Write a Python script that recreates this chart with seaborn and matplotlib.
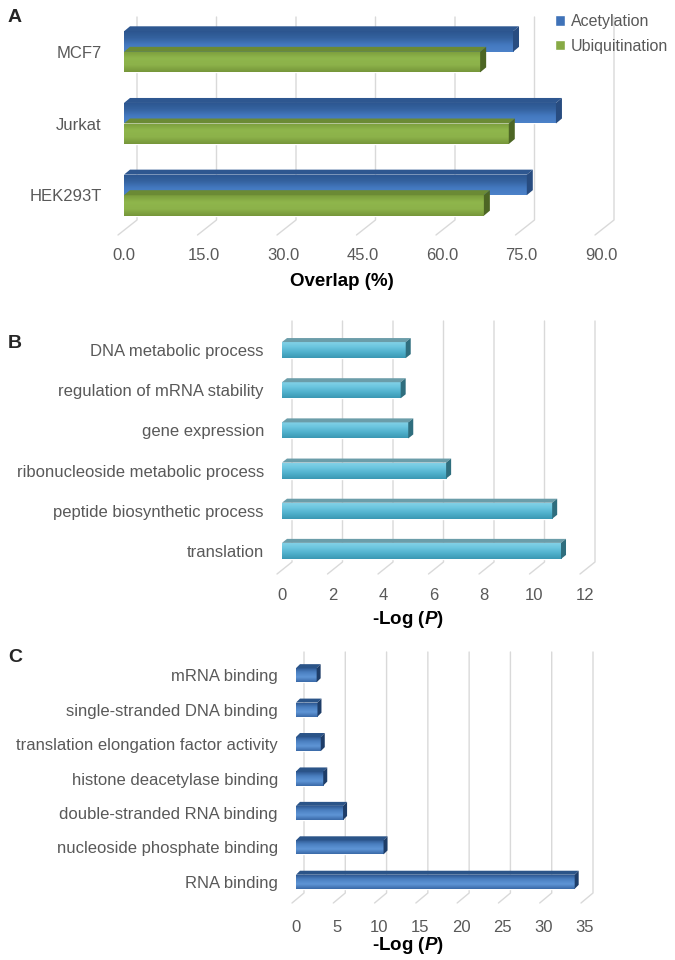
import numpy as np
import pandas as pd
import matplotlib
matplotlib.use('Agg')
import matplotlib.pyplot as plt
import seaborn as sns
from matplotlib.patches import Polygon
from matplotlib.colors import LinearSegmentedColormap

# panel A
cell_lines = ['MCF7', 'Jurkat', 'HEK293T']
acetylation = [73.4, 81.5, 76.0]
ubiquitination = [67.2, 72.6, 67.9]

# panel B
bp_terms = ['DNA metabolic process', 'regulation of mRNA stability', 'gene expression',
            'ribonucleoside metabolic process', 'peptide biosynthetic process', 'translation']
bp_values = [4.9, 4.7, 5.0, 6.5, 10.7, 11.05]

# panel C
mf_terms = ['mRNA binding', 'single-stranded DNA binding', 'translation elongation factor activity',
            'histone deacetylase binding', 'double-stranded RNA binding',
            'nucleoside phosphate binding', 'RNA binding']
mf_values = [2.5, 2.6, 3.0, 3.3, 5.7, 10.6, 33.75]

sns.set_theme(style='white')
plt.rcParams['font.family'] = ['Liberation Sans', 'DejaVu Sans']
plt.rcParams['mathtext.fontset'] = 'custom'
plt.rcParams['mathtext.it'] = 'Liberation Sans:bold:italic'
plt.rcParams['mathtext.rm'] = 'Liberation Sans:bold'

GREY = '#595959'
W, H = 675, 960
fig = plt.figure(figsize=(W / 100, H / 100), dpi=100)


def px_axes(left, top, right, bottom):
    return fig.add_axes([left / W, 1 - bottom / H, (right - left) / W, (bottom - top) / H])


def shade(ax, bars, cmaps):
    # gradient fill clipped to each bar
    xl, yl = ax.get_xlim(), ax.get_ylim()
    for bar, cmap in zip(bars, cmaps):
        x0, y0 = bar.get_x(), bar.get_y()
        img = np.linspace(0, 1, 64).reshape(-1, 1)
        im = ax.imshow(img, cmap=cmap, aspect='auto', origin='upper', interpolation='bilinear',
                       extent=(x0, x0 + bar.get_width(), y0 + bar.get_height(), y0), zorder=2.5)
        im.set_clip_path(bar)
    ax.set_xlim(xl)
    ax.set_ylim(yl)


def add_3d(ax, bars, tops, sides, dx, dy):
    # top and end faces built from each bar's own geometry (pixel offsets)
    fig.canvas.draw()
    inv = ax.transData.inverted()
    for bar, ctop, cside in zip(bars, tops, sides):
        x0, y0 = bar.get_x(), bar.get_y()
        x1, y1 = x0 + bar.get_width(), y0 + bar.get_height()
        (a, b), (c, d) = ax.transData.transform([(x0, y0), (x1, y1)])
        ytop, ybot = max(b, d), min(b, d)
        top = [(a, ytop), (c, ytop), (c + dx, ytop + dy), (a + dx, ytop + dy)]
        side = [(c, ybot), (c + dx, ybot + dy), (c + dx, ytop + dy), (c, ytop)]
        for pts, col in ((top, ctop), (side, cside)):
            ax.add_patch(Polygon(inv.transform(pts), closed=True, facecolor=col,
                                 edgecolor='none', zorder=3))


def style_axes(ax, xticks, fmt, xlabel, tickpad, ypad, grid, label_xy):
    gx, gy, fx, fy, gtop = grid
    ax.set_xticks(xticks)
    ax.set_xticklabels([fmt.format(t) for t in xticks])
    ax.grid(False)
    sns.despine(ax=ax, left=True, bottom=True)
    ax.tick_params(axis='x', length=0, pad=tickpad, labelsize=12, labelcolor=GREY)
    ax.tick_params(axis='y', length=0, pad=ypad, labelsize=12, labelcolor=GREY)
    ax.set_ylabel('')
    ax.set_xlabel(xlabel, fontsize=13.5, fontweight='bold', color='black')
    # back-wall gridlines and floor diagonals, placed in pixels around each tick
    ylo, yhi = ax.get_ylim()  # inverted axis: ylo is the bottom
    fig.canvas.draw()
    inv = ax.transData.inverted()
    for t in xticks:
        (px, pbot), (_, ptop) = ax.transData.transform([(t, ylo), (t, yhi)])
        pts = inv.transform([(px - fx, pbot - fy), (px + gx, pbot + gy),
                             (px + gx, ptop + gy - gtop)])
        ax.plot(pts[:, 0], pts[:, 1], color='#d9d9d9', lw=1, zorder=1, clip_on=False)
    ax.set_ylim(ylo, yhi)
    ax.xaxis.set_label_coords(*label_xy)
    ax.xaxis.label.set_va('center')


def label_xy(left, right, top, bottom, cx, cy):
    return ((cx - left) / (right - left), -(cy - bottom) / (bottom - top))


# ---- A
axA = px_axes(124, 16, 601, 231)
dfA = pd.DataFrame({
    'Cell line': cell_lines * 2,
    'Overlap': acetylation + ubiquitination,
    'Type': ['Acetylation'] * 3 + ['Ubiquitination'] * 3,
})
sns.barplot(data=dfA, y='Cell line', x='Overlap', hue='Type', orient='h',
            palette=['#3f72b8', '#87aa45'], width=0.573, saturation=1, ax=axA, zorder=2)
axA.set_xlim(0, 90)
style_axes(axA, np.arange(0, 91, 15), '{:.1f}', 'Overlap (%)', 12, 16,
           (13, 11, 6, 4, 12), label_xy(124, 601, 16, 231, 342, 282))
barsA = list(axA.patches)[:6]
blue_cm = LinearSegmentedColormap.from_list('b', ['#2c558f', '#34629f', '#4479c0', '#4c82c9'])
green_cm = LinearSegmentedColormap.from_list('g', ['#7a9c3c', '#8fb64c', '#8cb24a', '#76963a'])
shade(axA, barsA, [blue_cm] * 3 + [green_cm] * 3)
add_3d(axA, barsA, ['#2e5790'] * 3 + ['#6b8a35'] * 3, ['#284c80'] * 3 + ['#4d6624'] * 3, 6, 5)
axA.legend(title=None, loc='upper left', bbox_to_anchor=(552 / W, 1 - 11 / H),
           bbox_transform=fig.transFigure, frameon=False, fontsize=11.5, labelcolor=GREY,
           handlelength=0.6, handleheight=0.6, handletextpad=0.4, labelspacing=0.6,
           borderaxespad=0, borderpad=0.2)

# ---- B
axB = px_axes(282, 330, 585, 571)
dfB = pd.DataFrame({'Term': bp_terms, 'Value': bp_values})
sns.barplot(data=dfB, y='Term', x='Value', orient='h', color='#5bbcd6', saturation=1,
            width=0.4, ax=axB, zorder=2)
axB.set_xlim(0, 12)
style_axes(axB, np.arange(0, 13, 2), '{:.0f}', '-Log ($\\mathit{P}$)', 12, 13,
           (10, 9, 5, 3, 0), label_xy(282, 585, 330, 571, 408, 619))
cyan_cm = LinearSegmentedColormap.from_list('c', ['#86d3e8', '#6cc6df', '#4fb0cc', '#3b98b3'])
shade(axB, list(axB.patches), [cyan_cm] * 6)
add_3d(axB, list(axB.patches), ['#6b9da9'] * 6, ['#2f6e7e'] * 6, 5, 4)

# ---- C
axC = px_axes(296, 658, 585, 899)
dfC = pd.DataFrame({'Term': mf_terms, 'Value': mf_values})
sns.barplot(data=dfC, y='Term', x='Value', orient='h', color='#3f6eab', saturation=1,
            width=0.41, ax=axC, zorder=2)
axC.set_xlim(0, 35)
style_axes(axC, np.arange(0, 36, 5), '{:.0f}', '-Log ($\\mathit{P}$)', 15, 13,
           (8, 6, 4, 4, 0), label_xy(296, 585, 658, 899, 408, 946))
navy_cm = LinearSegmentedColormap.from_list('n', ['#2a5189', '#4a7fc0', '#5f95d6', '#3a6aa8'])
shade(axC, list(axC.patches), [navy_cm] * 7)
add_3d(axC, list(axC.patches), ['#2b5488'] * 7, ['#1e3d68'] * 7, 4, 4)

for letter, y in (('A', 17), ('B', 343), ('C', 657)):
    fig.text(8 / W, 1 - y / H, letter, fontsize=14, fontweight='bold', va='center')

fig.savefig('out.png', dpi=100)
